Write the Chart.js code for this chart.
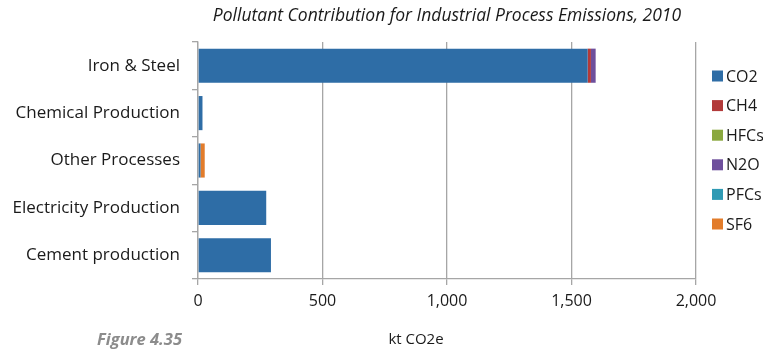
<!DOCTYPE html>
<html>
<head>
<meta charset="utf-8">
<script src="https://cdn.jsdelivr.net/npm/chart.js@4/dist/chart.umd.min.js"></script>
<style>
  html, body { margin: 0; padding: 0; background: #fff; overflow: hidden; }
  canvas { display: block; }
</style>
</head>
<body>
<canvas id="emissions" width="763" height="353"></canvas>
<script>
// Industrial process emissions by pollutant, kt CO2e
const sectors = ['Iron & Steel', 'Chemical Production', 'Other Processes', 'Electricity Production', 'Cement production'];
const co2  = [1565, 18, 10, 274, 293];
const ch4  = [13, 0, 0, 0, 0];
const hfcs = [0, 0, 0, 0, 0];
const n2o  = [19, 0, 0, 0, 0];
const pfcs = [0, 0, 0, 0, 0];
const sf6  = [0, 0, 17, 0, 0];
const xTicks = [0, 500, 1000, 1500, 2000];

const FONT = '"Open Sans", Lato, sans-serif';
const GRID = '#a6a6a6';

// Legend drawn down the right-hand side, next to the plot
const sideLegend = {
    id: 'sideLegend',
    afterDraw(chart) {
        const ctx = chart.ctx;
        const area = chart.chartArea;
        ctx.save();
        ctx.font = '16px ' + FONT;
        ctx.textBaseline = 'middle';
        ctx.textAlign = 'left';
        chart.data.datasets.forEach((ds, i) => {
            const y = area.top + 34 + i * 29.6;
            ctx.fillStyle = ds.backgroundColor;
            ctx.fillRect(area.right + 16, y - 5.5, 11, 11);
            ctx.fillStyle = '#1a1a1a';
            ctx.fillText(ds.label, area.right + 30, y + 1);
        });

        // axis caption and figure number under the plot
        ctx.font = '15px ' + FONT;
        ctx.textAlign = 'center';
        ctx.fillText('kt CO2e', area.left + 218, 340);
        ctx.font = 'italic bold 16.5px ' + FONT;
        ctx.fillStyle = '#8c8c8c';
        ctx.textAlign = 'right';
        ctx.fillText('Figure 4.35', area.left - 16, 340);
        ctx.restore();
    }
};

const series = [
    { label: 'CO2',  data: co2,  color: '#2e6da6' },
    { label: 'CH4',  data: ch4,  color: '#b23a3a' },
    { label: 'HFCs', data: hfcs, color: '#8aa83f' },
    { label: 'N2O',  data: n2o,  color: '#6e4f9c' },
    { label: 'PFCs', data: pfcs, color: '#2f9ab4' },
    { label: 'SF6',  data: sf6,  color: '#e27c2b' }
];

new Chart(document.getElementById('emissions'), {
    type: 'bar',
    data: {
        labels: sectors,
        datasets: series.map(s => ({
            label: s.label,
            data: s.data,
            backgroundColor: s.color,
            borderWidth: 0,
            barPercentage: 0.72,
            categoryPercentage: 1
        }))
    },
    options: {
        indexAxis: 'y',
        responsive: false,
        animation: false,
        layout: { padding: { left: 0, right: 67, top: 0, bottom: 0 } },
        plugins: {
            legend: { display: false },
            tooltip: { enabled: false },
            title: {
                display: true,
                fullSize: false,
                text: 'Pollutant Contribution for Industrial Process Emissions, 2010',
                color: '#1a1a1a',
                font: { family: FONT, size: 17.5, style: 'italic', weight: 'normal' },
                padding: { top: 6, bottom: 15 }
            }
        },
        scales: {
            x: {
                stacked: true,
                min: 0,
                max: 2000,
                afterBuildTicks: (scale) => { scale.ticks = xTicks.map(v => ({ value: v })); },
                afterFit: (scale) => { scale.height = 74; },
                ticks: {
                    color: '#1a1a1a',
                    padding: 7,
                    maxRotation: 0,
                    font: { family: FONT, size: 16 },
                    callback: (v) => v.toLocaleString('en-US')
                },
                grid: { color: GRID, lineWidth: 1.3, tickLength: 6 },
                border: { color: GRID, width: 1.3 }
            },
            y: {
                stacked: true,
                afterFit: (scale) => { scale.width = 198; },
                ticks: {
                    color: '#1a1a1a',
                    padding: 12,
                    autoSkip: false,
                    font: { family: FONT, size: 17 }
                },
                grid: { color: GRID, lineWidth: 1.3, tickLength: 6, drawOnChartArea: false, offset: true },
                border: { color: GRID, width: 1.3 }
            }
        }
    },
    plugins: [sideLegend]
});
</script>
</body>
</html>
